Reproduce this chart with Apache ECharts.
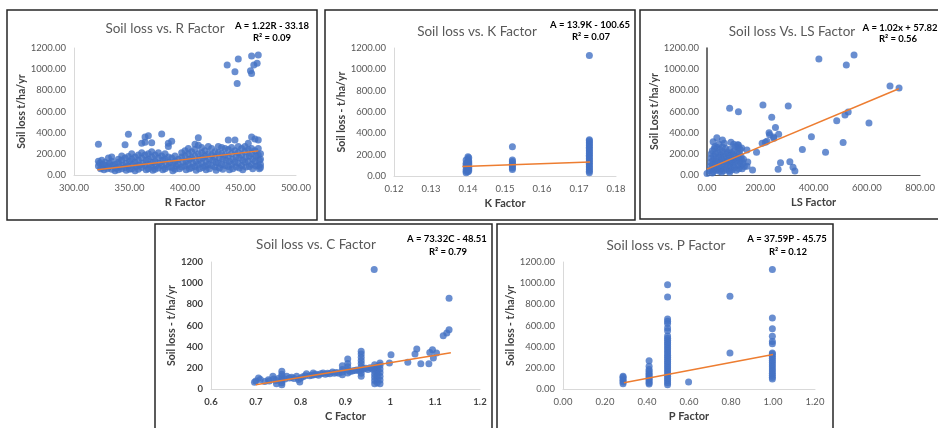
<!DOCTYPE html>
<html>
<head>
<meta charset="utf-8">
<script src="https://cdn.jsdelivr.net/npm/echarts@6/dist/echarts.min.js"></script>
<style>
html,body{margin:0;padding:0;background:#fff}
#main{width:938px;height:428px}
</style>
</head>
<body>
<div id="main"></div>
<script>
// soil loss (t/ha/yr) against each factor
var rPoints = [
 [322,290],[322,130],[323,110],[322,85],[324,60],[325,140],[326,100],[325,70],[327,50],
 [328,120],[329,90],[330,60],[331,160],[332,110],[331,75],[334,170],[334,130],[335,90],[334,55],
 [337,100],[338,65],[337,40],[340,150],[340,120],[341,80],[340,50],[343,180],[343,140],[344,95],[343,60],
 [346,285],[346,160],[347,110],[346,70],[347,45],[349,385],[349,175],[350,130],[349,85],[350,55],
 [352,200],[352,150],[353,100],[352,60],[355,170],[355,120],[356,80],[355,40],[358,190],[358,140],[359,95],[358,55],
 [361,300],[361,210],[361,160],[362,110],[361,70],[364,360],[364,310],[364,190],[365,140],[364,90],[365,50],
 [367,370],[367,200],[367,150],[368,100],[367,60],[370,305],[370,220],[370,170],[371,120],[370,75],[371,45],
 [373,190],[373,130],[374,85],[373,55],[376,210],[376,160],[377,110],[376,65],
 [379,387],[379,180],[380,140],[379,90],[380,50],[382,200],[382,150],[383,100],[382,60],
 [385,300],[385,270],[385,170],[386,120],[385,75],[388,320],[388,160],[389,110],[388,70],[389,40],
 [391,180],[391,130],[392,85],[391,55],[394,150],[394,100],[395,60],[397,210],[397,170],[398,120],[397,75],
 [400,230],[400,180],[401,130],[400,85],[401,50],[403,250],[403,200],[404,150],[403,100],[404,60],
 [406,220],[406,160],[407,110],[406,70],[409,290],[409,240],[409,180],[410,130],[409,80],[410,45],
 [412,353],[412,280],[412,200],[413,150],[412,100],[413,60],[415,260],[415,210],[416,160],[415,110],[416,70],
 [418,230],[418,180],[419,130],[418,85],[419,50],[421,270],[421,200],[422,150],[421,100],[422,60],
 [424,250],[424,190],[425,140],[424,90],[427,220],[427,170],[428,120],[427,75],[428,45],
 [430,270],[430,210],[431,160],[430,110],[431,65],[433,260],[433,200],[434,150],[433,100],[434,55],
 [436,250],[436,190],[437,140],[436,90],[439,330],[439,240],[439,180],[440,130],[439,80],[440,50],
 [442,260],[442,200],[443,150],[442,100],[443,60],[445,330],[445,230],[446,170],[445,120],[446,75],
 [448,270],[448,210],[449,160],[448,110],[449,65],[451,250],[451,190],[452,140],[451,90],[452,50],
 [454,270],[454,220],[455,170],[454,120],[455,75],[457,300],[457,240],[458,180],[457,130],[458,80],
 [460,360],[460,250],[460,200],[461,150],[460,100],[461,60],[463,340],[463,230],[464,180],[463,130],[464,85],
 [466,330],[466,250],[466,190],[467,140],[466,90],[467,60],[468,200],[468,150],[468,100],[468,70],
 [438,1040],[445,975],[447,865],[448,1095],[459,985],[460,960],[460,1125],[462,1040],[466,1135],[465,1055]
];
var rTrend = [[321,50],[466,228]];

var kPoints = [
 [0.1395,30],[0.14,40],[0.1402,50],[0.1395,60],[0.14,70],[0.1402,80],[0.1395,90],[0.14,100],
 [0.1402,110],[0.1395,120],[0.14,130],[0.1402,140],[0.1395,150],[0.14,160],[0.1402,170],[0.14,180],
 [0.1395,45],[0.1402,65],[0.1395,105],[0.1402,125],
 [0.152,60],[0.152,75],[0.152,90],[0.152,105],[0.152,120],[0.152,135],[0.152,150],[0.152,275],
 [0.1728,30],[0.1728,45],[0.1728,60],[0.1728,75],[0.1728,90],[0.1728,105],[0.1728,120],[0.1728,135],
 [0.1728,150],[0.1728,165],[0.1728,180],[0.1728,195],[0.1728,210],[0.1728,225],[0.1728,240],[0.1728,255],
 [0.1728,270],[0.1728,285],[0.1728,300],[0.1728,315],[0.1728,330],[0.1728,340],[0.1728,1130]
];
var kTrend = [[0.1385,88],[0.173,131]];

var lsPoints = [
 [420,1095],[523,1040],[552,1135],[687,840],[721,822],[530,595],[518,567],[487,513],[608,492],[511,306],
 [445,215],[392,362],[358,240],[305,652],[210,662],[243,545],[257,450],[233,400],[235,380],[250,360],
 [269,385],[251,347],[207,300],[219,309],[225,318],[186,214],[150,236],[153,123],[150,82],[171,47],
 [267,54],[276,116],[311,126],[323,73],[330,38],[85,630],[118,598],[37,353],[23,315],[58,331],
 [90,309],[118,283],[0,15],
 [10,40],[12,80],[14,120],[15,160],[16,200],[18,60],[20,100],[20,230],[22,140],[24,30],[25,180],[27,70],
 [28,250],[30,110],[32,200],[33,45],[35,150],[36,90],[38,260],[40,130],[40,55],[42,210],[44,170],[45,80],
 [47,35],[48,240],[50,120],[52,190],[53,60],[55,150],[57,100],[58,265],[60,220],[62,40],[63,170],[65,130],
 [67,75],[68,200],[70,250],[72,110],[73,55],[75,160],[77,215],[78,90],[80,135],[82,185],[83,40],[85,240],
 [87,110],[88,70],[90,165],[92,210],[93,130],[95,50],[97,190],[98,95],[100,150],[102,230],[103,70],[105,120],
 [107,270],[108,175],[110,45],[112,140],[113,210],[115,95],[117,260],[118,160],[120,60],[122,200],[124,125],
 [125,240],[127,85],[128,175],[130,140],[132,60],[135,110],[137,150],[140,80],[30,270],[45,290],[65,300],
 [100,290],[115,285],[130,255],[20,20],[55,25],[85,25]
];
var lsTrend = [[0,55],[720,815]];

var cPoints = [
 [0.697,63],[0.70,75],[0.706,104],[0.71,90],[0.72,70],[0.728,88],[0.73,75],[0.738,120],[0.74,95],[0.745,80],
 [0.746,50],[0.75,100],[0.758,41],[0.758,60],[0.758,80],[0.758,100],[0.758,120],[0.758,140],[0.758,167],
 [0.765,95],[0.769,120],[0.775,105],[0.78,110],[0.785,100],[0.791,120],[0.795,90],[0.798,66],[0.80,105],
 [0.805,115],[0.81,125],[0.813,145],[0.82,125],[0.825,130],[0.828,151],[0.83,135],[0.835,140],[0.84,130],
 [0.845,145],[0.85,151],[0.855,140],[0.86,150],[0.865,145],[0.871,161],[0.875,150],[0.88,155],[0.885,150],
 [0.893,135],[0.893,160],[0.893,185],[0.893,220],[0.905,151],[0.905,180],[0.905,210],[0.905,240],[0.905,283],
 [0.91,165],[0.915,170],[0.92,175],[0.925,180],[0.93,175],
 [0.935,120],[0.935,150],[0.935,180],[0.935,210],[0.935,240],[0.935,270],[0.935,300],[0.935,330],[0.935,356],
 [0.94,190],[0.945,195],[0.95,185],[0.955,200],[0.96,190],
 [0.965,50],[0.965,80],[0.965,110],[0.965,140],[0.965,170],[0.965,200],[0.965,230],
 [0.971,60],[0.971,90],[0.971,120],[0.971,150],[0.971,180],[0.971,210],
 [0.977,50],[0.977,85],[0.977,120],[0.977,155],[0.977,190],[0.977,225],[0.977,246],
 [0.964,1128],[1.0015,324],[0.998,246],[1.039,252],[1.059,378],[1.055,331],[1.068,239],[1.086,239],
 [1.088,346],[1.094,372],[1.096,293],[1.103,340],[1.118,504],[1.126,529],[1.131,561],[1.131,857]
];
var cTrend = [[0.70,40],[1.135,342]];

var pPoints = [
 [0.286,50],[0.286,65],[0.286,80],[0.286,95],[0.286,110],[0.286,120],
 [0.41,47],[0.41,60],[0.41,75],[0.41,90],[0.41,105],[0.41,120],[0.41,135],[0.41,150],[0.41,167],[0.41,185],
 [0.41,214],[0.41,268],
 [0.498,41],[0.498,60],[0.498,80],[0.498,100],[0.498,120],[0.498,140],[0.498,160],[0.498,180],[0.498,200],
 [0.498,220],[0.498,240],[0.498,260],[0.498,280],[0.498,300],[0.498,320],[0.498,340],[0.498,360],[0.498,380],
 [0.498,400],[0.498,420],[0.498,440],[0.498,460],[0.498,480],[0.498,500],[0.498,551],[0.498,576],[0.498,620],
 [0.498,639],[0.498,661],[0.498,869],[0.498,986],
 [0.598,66],[0.795,340],[0.795,876],
 [0.997,94],[0.997,110],[0.997,130],[0.997,150],[0.997,170],[0.997,190],[0.997,210],[0.997,230],[0.997,250],
 [0.997,270],[0.997,290],[0.997,310],[0.997,330],[0.997,340],[0.997,428],[0.997,450],[0.997,498],[0.997,570],
 [0.997,671],[0.997,1128]
];
var pTrend = [[0.29,60],[1.0,325]];

var blue = '#4472C4';
var orange = '#ED7D31';
var font = 'Lato, "Liberation Sans", sans-serif';

function fix2(v){ return v.toFixed(2); }
function fix1(v){ return String(Math.round(v * 10) / 10); }

function xAx(i, name, min, max, step, fmt, opts){
  opts = opts || {};
  return {
    type: 'value', gridIndex: i, min: min, max: max, interval: step,
    name: name, nameLocation: 'middle', nameGap: 22,
    nameTextStyle: {fontFamily: font, fontWeight: 'bold', fontSize: 11, color: '#404040'},
    axisLine: {show: true, lineStyle: {color: opts.lineColor || '#D9D9D9', width: 1}},
    axisTick: {show: false}, splitLine: {show: false},
    axisLabel: {formatter: fmt, fontFamily: font, fontSize: 9.5, margin: 8,
      fontWeight: opts.bold ? 'bold' : 'normal', color: opts.bold ? '#404040' : '#595959'}
  };
}
function yAx(i, name, gap, fmt, opts){
  opts = opts || {};
  return {
    type: 'value', gridIndex: i, min: 0, max: 1200, interval: 200,
    name: name, nameLocation: 'middle', nameGap: gap,
    nameTextStyle: {fontFamily: font, fontWeight: 'bold', fontSize: 10.5, color: '#404040'},
    axisLine: {show: true, lineStyle: {color: opts.lineColor || '#D9D9D9', width: opts.lineWidth || 1}},
    axisTick: {show: false}, splitLine: {show: false},
    axisLabel: {formatter: fmt, fontFamily: font, fontSize: 9.5, margin: 8,
      fontWeight: opts.bold ? 'bold' : 'normal', color: opts.bold ? '#404040' : '#595959'}
  };
}
function dots(i, data){
  return {type: 'scatter', xAxisIndex: i, yAxisIndex: i, data: data, symbolSize: 7,
    itemStyle: {color: blue}, z: 2};
}
function trend(i, data){
  return {type: 'line', xAxisIndex: i, yAxisIndex: i, data: data, showSymbol: false,
    lineStyle: {color: orange, width: 1.5}, z: 3};
}
function txt(x, y, s, size, bold, color){
  return {type: 'text', x: x, y: y, style: {text: s, fontFamily: font, fontSize: size,
    fontWeight: bold ? 'bold' : 'normal', fill: color, textAlign: 'center', textVerticalAlign: 'middle'}};
}
function box(x, y, w, h){
  return {type: 'rect', shape: {x: x, y: y, width: w, height: h},
    style: {fill: null, stroke: '#262626', lineWidth: 1.5}};
}

var chart = echarts.init(document.getElementById('main'));
chart.setOption({
  animation: false,
  grid: [
    {left: 74, top: 48, width: 222, height: 127},
    {left: 394, top: 48, width: 222, height: 128},
    {left: 707, top: 48, width: 224, height: 127},
    {left: 211, top: 262, width: 269, height: 127},
    {left: 563, top: 262, width: 252, height: 127}
  ],
  xAxis: [
    xAx(0, 'R Factor', 300, 500, 50, fix2),
    xAx(1, 'K Factor', 0.12, 0.18, 0.01, fix2),
    xAx(2, 'LS Factor', 0, 800, 200, fix2, {lineColor: '#595959'}),
    xAx(3, 'C Factor', 0.6, 1.2, 0.1, fix1, {bold: true}),
    xAx(4, 'P Factor', 0, 1.2, 0.2, fix2)
  ],
  yAxis: [
    yAx(0, 'Soil loss t/ha/yr', 42, fix2),
    yAx(1, 'Soil loss - t/ha/yr', 44, fix2),
    yAx(2, 'Soil Loss t/ha/yr', 42, fix2, {lineColor: '#404040', lineWidth: 1.5}),
    yAx(3, 'Soil loss - t/ha/yr', 33, function(v){ return String(v); }, {bold: true}),
    yAx(4, 'Soil loss - t/ha/yr', 43, fix2)
  ],
  series: [
    dots(0, rPoints), trend(0, rTrend),
    dots(1, kPoints), trend(1, kTrend),
    dots(2, lsPoints), trend(2, lsTrend),
    dots(3, cPoints), trend(3, cTrend),
    dots(4, pPoints), trend(4, pTrend)
  ],
  graphic: [
    box(7, 10, 310, 210),
    box(325, 10, 310, 210),
    box(640, 10, 310, 209),
    box(155, 224, 337, 220),
    box(497, 224, 336, 220),
    txt(165, 29, 'Soil loss vs. R Factor', 13.5, false, '#595959'),
    txt(272, 26, 'A = 1.22R - 33.18', 9.5, true, '#000'),
    txt(272, 38, 'R² = 0.09', 9.5, true, '#000'),
    txt(477, 32, 'Soil loss vs. K Factor', 13.5, false, '#595959'),
    txt(590, 25, 'A = 13.9K - 100.65', 9.5, true, '#000'),
    txt(591, 37, 'R² = 0.07', 9.5, true, '#000'),
    txt(792, 32, 'Soil loss Vs. LS Factor', 13.5, false, '#595959'),
    txt(900, 28, 'A = 1.02x + 57.82', 9.5, true, '#000'),
    txt(898, 39, 'R² = 0.56', 9.5, true, '#000'),
    txt(316, 245, 'Soil loss vs. C Factor', 13.5, false, '#595959'),
    txt(447, 239, 'A = 73.32C - 48.51', 9.5, true, '#000'),
    txt(448, 252, 'R² = 0.79', 9.5, true, '#000'),
    txt(666, 246, 'Soil loss vs. P Factor', 13.5, false, '#595959'),
    txt(787, 239, 'A = 37.59P - 45.75', 9.5, true, '#000'),
    txt(788, 252, 'R² = 0.12', 9.5, true, '#000')
  ]
});
</script>
</body>
</html>
